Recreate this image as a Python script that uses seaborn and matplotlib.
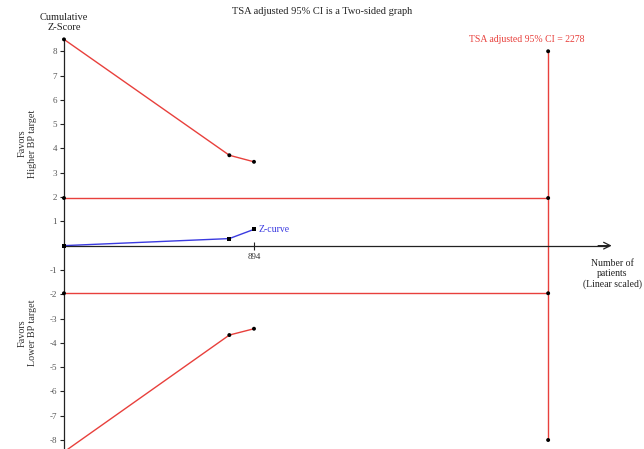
import matplotlib
matplotlib.use("Agg")
import matplotlib.pyplot as plt
import seaborn as sns
import pandas as pd

sns.set_theme(style="white")
plt.rcParams['font.family'] = ['Liberation Serif', 'DejaVu Serif']

# Data
boundary_n = [0, 778, 894]
upper_boundary = [8.49, 3.72, 3.45]
lower_boundary = [-8.49, -3.68, -3.42]
zcurve_n = [0, 778, 894]
zcurve_z = [0.0, 0.29, 0.67]
conv_n = [0, 2278]
conv_z = [1.96, -1.96]
ci_n = 2278
ci_z = [8.0, -8.0]
yticks = [-8, -7, -6, -5, -4, -3, -2, -1, 1, 2, 3, 4, 5, 6, 7, 8]
xticks = [894]

red = "#e8403c"
blue = "#3a3ae0"

fig = plt.figure(figsize=(6.44, 4.49), dpi=100)
ax = fig.add_axes([0, 0, 1, 1])
ax.set_xlim(-301, 2729)
ax.set_ylim(-8.37, 10.11)

# Conventional boundaries
for z in conv_z:
    df = pd.DataFrame({"n": conv_n, "z": [z, z]})
    sns.lineplot(data=df, x="n", y="z", ax=ax, color=red, lw=1.0, estimator=None)
    sns.scatterplot(data=df, x="n", y="z", ax=ax, color="black", s=8, edgecolor="none", zorder=5)

# TSA adjusted CI vertical line
df = pd.DataFrame({"n": [ci_n, ci_n], "z": ci_z})
sns.lineplot(data=df, x="n", y="z", ax=ax, color=red, lw=1.0, sort=False, estimator=None)
sns.scatterplot(data=df, x="n", y="z", ax=ax, color="black", s=8, edgecolor="none", zorder=5)

# Monitoring boundaries
for b in (upper_boundary, lower_boundary):
    df = pd.DataFrame({"n": boundary_n, "z": b})
    sns.lineplot(data=df, x="n", y="z", ax=ax, color=red, lw=1.0, estimator=None)
    sns.scatterplot(data=df, x="n", y="z", ax=ax, color="black", s=8, edgecolor="none", zorder=5, clip_on=False)

# Z-curve
df = pd.DataFrame({"n": zcurve_n, "z": zcurve_z})
sns.lineplot(data=df, x="n", y="z", ax=ax, color=blue, lw=1.0, estimator=None)
sns.scatterplot(data=df, x="n", y="z", ax=ax, color="black", s=8, marker="s", edgecolor="none", zorder=5)
ax.text(zcurve_n[-1] + 20, zcurve_z[-1], "Z-curve", color=blue, fontsize=7, va="center", ha="left")

# Axes
for s in ["top", "right"]:
    ax.spines[s].set_visible(False)
ax.spines["left"].set_position(("data", 0))
ax.spines["bottom"].set_position(("data", 0))
ax.spines["left"].set_bounds(-8.5, 8.5)
ax.spines["bottom"].set_bounds(0, 2560)
for s in ["left", "bottom"]:
    ax.spines[s].set_color("#222222")
    ax.spines[s].set_linewidth(0.9)
ax.set_yticks(yticks)
ax.set_yticklabels([str(t) for t in yticks])
ax.set_xticks(xticks)
ax.set_xticklabels([str(t) for t in xticks])
ax.tick_params(axis="y", direction="out", length=3, width=0.8, color="#222222",
               labelsize=6.5, labelcolor="#555555", pad=2, left=True)
ax.tick_params(axis="x", direction="inout", length=6, width=0.8, color="#222222",
               labelsize=6.5, labelcolor="#333333", pad=2, bottom=True)
ax.set_xlabel("")
ax.set_ylabel("")

# Arrow head on x-axis
ax.annotate("", xy=(2590, 0), xytext=(2500, 0),
            arrowprops=dict(arrowstyle="->", color="#222222", lw=0.9, mutation_scale=12))

# Texts
ax.text(0.5, 0.975, "TSA adjusted 95% CI is a Two-sided graph", transform=ax.transAxes,
        ha="center", va="center", fontsize=7.5, color="#222222")
ax.text(0, 8.8, "Cumulative\nZ-Score", ha="center", va="bottom", fontsize=7.5,
        color="#222222", linespacing=1.15)
ax.text(ci_n - 100, 8.3, "TSA adjusted 95% CI = 2278", ha="center", va="bottom",
        fontsize=7, color=red)
ax.text(2580, -0.55, "Number of\npatients\n(Linear scaled)", ha="center", va="top",
        fontsize=7, color="#222222", linespacing=1.2)
ax.text(-172, 4.2, "Favors\nHigher BP target", rotation=90, ha="center", va="center",
        fontsize=7.3, color="#333333", linespacing=1.3)
ax.text(-172, -3.6, "Favors\nLower BP target", rotation=90, ha="center", va="center",
        fontsize=7.3, color="#333333", linespacing=1.3)

fig.savefig("out.png", dpi=100)
